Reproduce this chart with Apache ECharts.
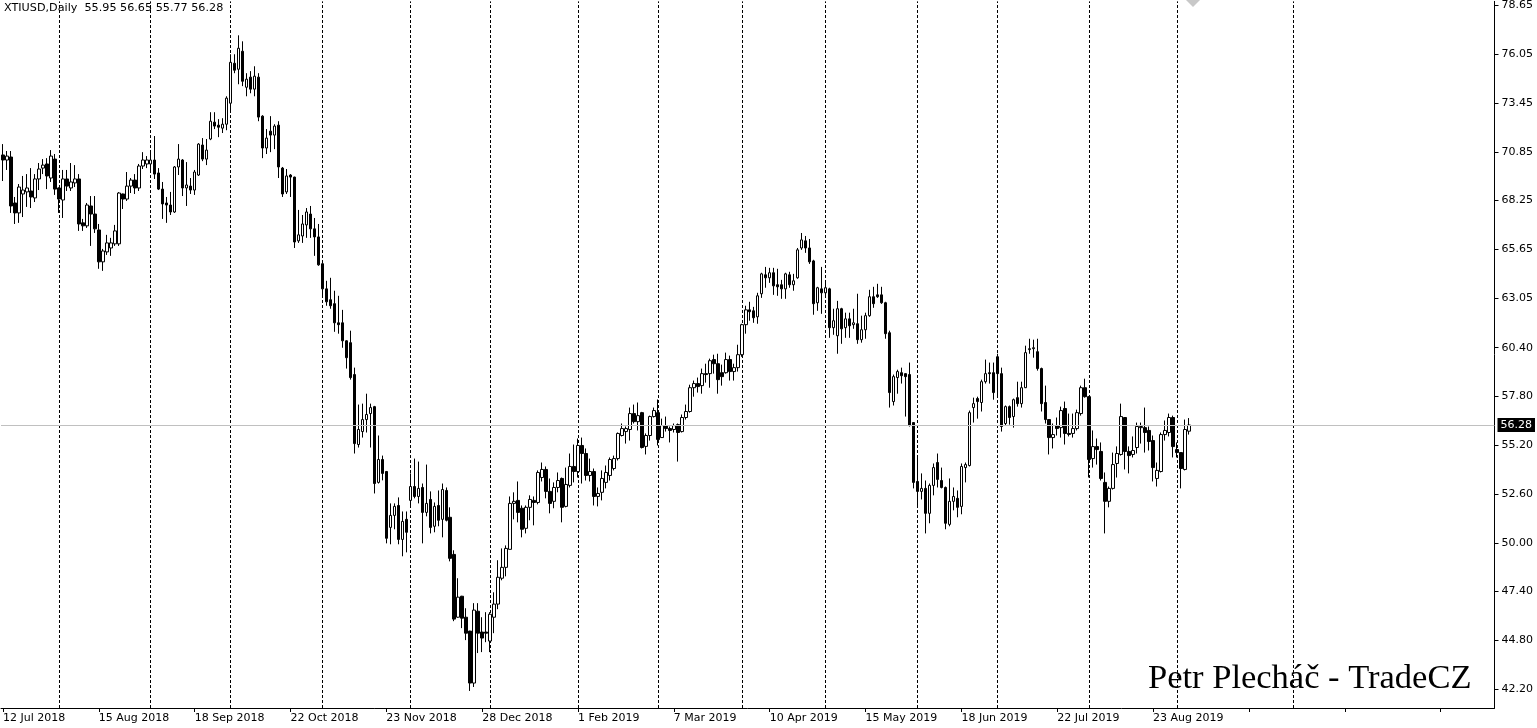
<!DOCTYPE html>
<html><head><meta charset="utf-8">
<style>html,body{margin:0;padding:0;background:#fff;overflow:hidden}#c{width:1537px;height:728px}</style>
<script src="https://cdn.jsdelivr.net/npm/echarts@6/dist/echarts.min.js"></script>
</head><body><div id="c"></div>
<script>
const symbolName = 'XTIUSD,Daily';
const firstDate = [2018, 6, 12];
const holidays = ['2018-12-25', '2019-01-01', '2019-04-19'];
const totalSlots = 374;
const labelEvery = 24;
const monthStartBars = [14, 37, 57, 80, 102, 122, 144, 164, 185, 206, 229, 249, 272, 294, 323];
const priceTicks = [42.20, 44.80, 47.40, 50.00, 52.60, 55.20, 57.80, 60.40, 63.05, 65.65, 68.25, 70.85, 73.45, 76.05, 78.65];
const priceMin = 41.19, priceMax = 78.87;

const open = [70.68,70.41,70.57,68.12,67.59,68.60,68.71,68.76,68.39,69.40,69.98,70.20,69.45,70.46,68.92,68.28,69.40,68.92,69.19,69.40,
67.06,66.90,67.96,67.53,66.68,64.98,65.51,65.72,65.94,65.94,68.60,68.33,69.02,69.34,68.92,70.09,70.20,70.20,70.41,69.72,
68.86,68.12,68.01,67.64,70.04,70.41,68.92,69.02,68.81,69.61,71.21,70.46,71.53,72.43,72.27,72.11,72.32,73.44,75.57,75.25,
76.21,74.29,74.83,74.19,74.83,72.75,71.05,71.95,71.74,72.27,69.98,68.71,69.61,69.50,66.10,66.36,66.95,67.53,66.74,66.31,
64.88,63.54,62.96,62.75,61.73,61.73,60.77,60.67,58.97,55.24,55.93,56.57,56.89,57.26,53.22,54.44,53.80,50.82,51.46,51.99,
50.18,51.25,52.26,53.00,52.47,52.95,51.62,52.31,50.88,51.99,51.25,52.79,51.36,49.38,46.03,47.15,46.03,45.29,42.52,46.35,
45.24,45.24,44.76,46.03,46.73,48.11,48.69,49.65,52.10,52.26,51.84,50.77,51.89,52.26,52.15,53.48,53.91,52.74,52.21,52.95,
53.43,51.94,53.06,54.07,53.80,55.19,54.76,53.59,53.80,52.47,52.69,53.22,53.59,53.96,54.49,55.72,55.93,56.04,56.89,56.46,
56.94,55.14,55.72,56.73,56.94,55.61,56.25,56.09,56.04,56.30,55.93,56.68,57.00,58.27,58.49,58.38,59.02,59.02,59.77,59.55,
59.07,59.07,59.77,59.13,59.34,60.03,61.63,62.42,62.37,62.05,63.28,64.29,64.13,64.40,63.76,63.76,63.54,64.29,63.76,64.13,
65.72,66.10,65.72,65.03,62.80,63.54,63.33,63.54,61.47,61.04,62.48,61.47,61.94,61.63,61.68,60.83,61.36,62.11,63.12,63.22,
63.22,62.80,61.20,57.53,58.81,59.07,59.02,58.97,56.41,53.27,52.74,52.90,51.57,53.06,54.28,53.32,52.95,50.98,52.21,52.37,
51.94,54.01,54.12,57.21,57.69,57.48,58.59,59.07,59.07,59.92,59.02,56.36,57.26,56.73,57.74,57.42,58.27,60.30,60.35,60.19,
59.29,57.48,56.57,55.61,56.25,56.14,57.16,55.83,55.83,56.09,56.89,58.27,57.79,54.49,55.13,54.87,53.22,52.21,52.90,54.23,
54.71,56.68,54.87,54.71,55.08,56.14,56.14,55.99,55.45,53.43,53.80,55.77,55.88,56.68,54.97,54.81,53.91,55.95];
const high = [71.26,70.89,70.89,68.44,69.13,69.56,69.66,69.98,69.66,70.25,70.46,70.51,70.94,70.73,68.95,69.88,69.88,70.25,70.14,69.66,
67.27,68.12,68.49,68.49,67.00,65.67,66.42,66.26,66.95,68.70,68.62,69.77,69.45,69.66,70.20,70.83,70.62,70.83,71.69,69.98,
69.24,68.44,68.71,70.09,71.26,70.46,70.30,69.45,69.88,71.31,71.58,71.53,72.96,72.96,72.59,72.64,73.81,76.05,76.05,77.06,
76.74,75.04,75.15,75.41,75.04,72.80,72.06,72.75,72.32,72.48,70.04,69.93,69.66,69.52,67.75,67.48,67.85,67.96,67.32,67.00,
64.90,63.97,64.13,63.44,63.17,62.42,60.80,61.31,59.34,57.37,57.42,57.95,57.42,57.30,55.72,54.65,53.83,52.10,52.10,52.42,
51.67,51.67,53.70,54.49,54.33,53.16,54.17,52.74,52.15,52.79,53.16,52.95,51.89,49.60,48.11,47.17,46.51,45.31,46.78,46.78,
46.03,46.30,46.30,47.36,49.07,49.70,49.86,52.47,52.69,53.27,51.99,51.99,52.53,52.47,53.86,54.28,54.07,53.43,53.22,53.75,
53.48,54.01,54.76,55.24,55.56,55.61,55.03,54.49,53.96,52.95,53.86,54.12,54.55,54.65,55.88,56.36,56.20,57.21,57.37,57.48,
56.98,55.83,56.78,57.21,57.64,56.62,56.73,56.20,56.36,56.36,56.84,57.37,58.43,58.65,58.81,59.29,59.55,59.82,60.03,60.08,
59.50,60.14,59.98,59.55,60.56,61.68,62.64,62.85,62.58,63.33,64.40,64.71,64.66,64.66,64.61,64.02,64.40,64.45,64.34,65.72,
66.52,66.36,66.20,65.09,63.65,64.71,63.86,63.60,62.48,62.90,62.53,62.27,62.27,62.48,63.28,62.11,62.27,63.49,63.65,63.81,
63.65,62.85,61.31,58.97,59.23,59.34,59.04,59.61,56.43,54.65,53.70,53.32,53.16,54.23,54.76,54.01,53.00,53.43,52.95,52.79,
54.23,54.28,57.05,57.74,57.79,58.70,59.77,59.61,59.61,60.08,59.34,57.32,57.32,57.69,58.59,58.59,60.51,60.88,60.83,60.88,
59.34,58.38,56.59,56.36,56.68,57.26,57.53,56.89,56.89,57.10,58.38,58.75,57.82,55.99,55.56,55.35,53.75,53.00,54.81,55.14,
57.42,56.70,55.14,55.67,56.41,56.41,57.21,56.20,55.72,54.28,55.88,56.52,56.89,56.78,55.35,54.83,56.57,56.65];
const low = [69.29,69.88,67.59,67.00,67.06,67.37,67.91,67.85,68.17,68.81,69.66,68.86,69.24,68.55,67.59,67.32,68.76,68.76,68.97,66.63,
66.63,66.79,65.83,66.52,64.61,64.50,65.35,65.30,65.83,65.83,67.80,68.23,68.65,68.60,68.76,69.93,69.98,69.77,69.40,68.81,
67.27,67.06,67.48,67.59,69.61,68.49,67.96,68.60,68.55,69.56,70.35,70.14,71.47,72.06,71.63,71.85,72.00,73.02,75.04,74.45,
74.35,73.81,73.97,73.81,72.48,70.51,70.73,70.83,70.99,69.45,68.44,68.60,68.44,65.72,65.99,65.99,66.26,66.26,65.30,64.77,
63.17,62.64,62.48,61.25,61.15,60.40,59.29,58.70,54.76,55.08,55.61,55.88,55.08,52.63,53.16,53.33,49.97,49.92,50.72,49.92,
49.28,49.49,51.94,52.37,52.10,49.97,51.41,50.50,50.56,50.88,50.29,51.14,49.01,45.82,46.00,45.45,44.81,42.10,42.31,44.12,
44.17,44.70,44.17,45.18,46.46,48.00,48.21,49.65,51.25,51.09,50.29,50.50,51.20,50.93,52.05,53.27,52.37,51.57,51.84,52.69,
51.09,51.89,52.95,53.22,53.48,53.16,53.32,53.27,51.99,51.94,52.26,52.90,53.32,53.86,54.39,55.67,55.29,55.45,56.36,55.99,
55.03,54.71,55.45,56.68,55.19,55.59,55.93,55.35,55.88,54.33,55.88,56.57,56.94,57.79,58.01,57.95,58.54,58.27,59.02,57.95,
58.38,59.02,58.65,58.65,59.13,59.92,61.15,61.84,61.73,61.68,63.06,63.60,63.86,63.22,63.17,63.01,63.01,63.60,63.44,64.08,
65.62,65.46,64.87,62.16,62.37,62.21,63.17,60.93,61.09,60.08,60.61,60.93,60.93,61.41,60.61,60.67,60.88,62.05,62.53,63.06,
62.74,60.88,57.21,57.32,57.95,58.49,56.73,56.20,52.90,51.89,52.31,50.50,51.04,52.53,52.95,52.90,50.72,50.88,51.73,51.36,
51.52,53.22,54.07,56.41,56.62,57.00,58.49,58.49,57.63,57.85,55.93,56.25,56.30,56.14,57.26,57.21,58.25,60.08,59.87,59.18,
57.00,56.36,54.71,55.03,55.72,55.61,55.24,55.67,55.61,55.99,56.78,57.74,53.48,54.01,54.17,53.32,50.50,51.89,52.84,53.48,
54.65,53.91,53.70,54.55,54.76,55.29,54.81,54.92,53.27,53.00,53.75,55.45,55.67,54.55,54.55,52.90,53.86,55.77];
const close = [70.41,70.62,67.96,67.59,68.97,68.81,68.92,68.44,69.40,69.93,70.14,69.56,70.62,68.86,68.33,69.40,69.02,69.24,69.40,67.00,
66.90,68.01,67.53,66.74,64.98,65.56,65.99,65.99,66.63,68.65,68.33,69.02,69.34,68.92,70.09,70.41,70.41,70.41,69.66,68.86,
68.07,68.01,67.64,70.04,70.46,68.92,69.08,68.81,69.77,71.26,70.46,70.94,72.48,72.22,72.16,72.32,73.71,75.62,75.20,76.37,
74.61,74.72,74.19,74.88,72.70,71.05,71.58,71.74,72.22,70.04,68.60,69.56,69.50,66.04,66.42,67.00,67.64,66.74,66.31,64.82,
63.54,62.85,62.64,61.73,61.63,60.77,59.87,58.81,55.29,56.04,56.57,56.84,57.21,53.16,54.44,53.70,50.24,51.46,51.94,50.18,
51.14,50.56,53.00,52.47,52.90,51.62,52.10,50.82,51.94,51.20,52.84,51.20,49.17,45.93,47.10,45.98,45.18,42.52,46.41,45.18,
44.92,45.18,46.19,46.73,48.16,48.69,49.70,52.10,52.21,51.62,50.72,51.89,52.31,52.15,53.75,53.91,52.74,52.10,52.95,53.32,
51.89,53.11,54.07,53.80,55.19,54.76,53.59,53.80,52.47,52.63,53.43,53.75,54.44,54.49,55.83,56.09,56.09,56.89,56.46,56.78,
55.08,55.72,56.73,57.05,55.51,56.25,56.09,55.99,56.25,55.88,56.68,57.00,58.27,58.49,58.33,59.02,58.97,59.71,59.55,58.70,
58.86,59.77,59.13,59.34,60.03,61.63,62.42,62.32,62.00,63.17,64.34,64.13,64.40,63.70,63.65,63.54,64.34,63.76,63.97,65.62,
66.15,65.72,64.98,62.75,63.60,63.33,63.60,61.47,61.84,62.48,61.41,61.94,61.57,61.73,60.83,61.36,62.11,63.12,62.75,63.12,
62.80,61.15,58.01,58.86,59.13,58.91,58.86,56.25,53.22,52.74,52.90,51.57,53.06,54.01,53.38,52.95,51.04,52.21,52.47,51.89,
54.07,54.17,56.94,57.42,57.53,58.59,59.02,59.02,58.01,59.02,56.20,57.26,56.68,57.63,57.42,58.27,60.14,60.35,60.40,59.29,
57.42,56.57,55.61,55.77,56.09,57.05,55.83,55.78,56.09,56.94,58.27,57.79,54.44,55.13,54.97,53.43,52.21,52.90,54.17,54.76,
56.73,54.87,54.65,54.92,56.20,56.20,55.88,55.40,54.01,53.86,55.77,55.99,56.68,55.13,54.81,53.96,56.04,56.28];

const MONTHS = ['Jan','Feb','Mar','Apr','May','Jun','Jul','Aug','Sep','Oct','Nov','Dec'];
const dates = [];
let day = new Date(Date.UTC(firstDate[0], firstDate[1], firstDate[2]));
while (dates.length < open.length) {
  const iso = day.toISOString().slice(0, 10);
  const wd = day.getUTCDay();
  if (wd !== 0 && wd !== 6 && holidays.indexOf(iso) < 0) dates.push(iso);
  day = new Date(day.getTime() + 86400000);
}
const categories = dates.slice();
for (let i = dates.length; i < totalSlots; i++) categories.push('future' + i);

function fmtDate(v) {
  if (!/^\d{4}-\d\d-\d\d$/.test(v)) return '';
  const p = v.split('-');
  return parseInt(p[2], 10) + ' ' + MONTHS[parseInt(p[1], 10) - 1] + ' ' + p[0];
}

const candles = open.map((o, i) => [o, close[i], low[i], high[i]]);
const last = open.length - 1;
const lastPrice = close[last];
const titleText = symbolName + '  ' + [open[last], high[last], low[last], close[last]].map(v => v.toFixed(2)).join(' ');

const chart = echarts.init(document.getElementById('c'), null, {renderer: 'canvas'});
chart.setOption({
  animation: false,
  backgroundColor: '#ffffff',
  textStyle: {fontFamily: 'DejaVu Sans'},
  grid: {left: -1.5, top: 0, width: 1496, height: 708},
  xAxis: {
    type: 'category', data: categories, boundaryGap: true,
    axisLine: {show: true, lineStyle: {color: '#000', width: 1}},
    axisTick: {show: true, interval: labelEvery - 1, alignWithLabel: true, length: 4, lineStyle: {color: '#000'}},
    axisLabel: {interval: labelEvery - 1, align: 'left', margin: 5, fontSize: 11, fontFamily: 'DejaVu Sans', color: '#000', formatter: fmtDate},
    splitLine: {show: false}
  },
  yAxis: {
    type: 'value', position: 'right', min: priceMin, max: priceMax,
    axisLine: {show: true, onZero: false, lineStyle: {color: '#000', width: 1}},
    axisTick: {show: true, customValues: priceTicks, length: 4, lineStyle: {color: '#000'}},
    axisLabel: {customValues: priceTicks, formatter: v => v.toFixed(2), fontSize: 11, fontFamily: 'DejaVu Sans', color: '#000', margin: 7},
    splitLine: {show: false}
  },
  series: [
    {
      type: 'line', data: [], z: 1, silent: true,
      markLine: {
        silent: true, symbol: 'none', z: 1, animation: false,
        label: {show: false},
        lineStyle: {color: '#000', type: [3, 2], width: 1},
        data: monthStartBars.map(b => ({xAxis: b}))
      }
    },
    {
      type: 'candlestick', data: candles, barWidth: 3, z: 3, silent: true,
      itemStyle: {color: '#ffffff', color0: '#000000', borderColor: '#000000', borderColor0: '#000000', borderColorDoji: '#000000', borderWidth: 1},
      markLine: {
        silent: true, symbol: 'none', animation: false,
        data: [{
          yAxis: lastPrice,
          lineStyle: {color: '#c0c0c0', type: 'solid', width: 1},
          label: {show: true, position: 'end', formatter: lastPrice.toFixed(2), color: '#fff', backgroundColor: '#000', padding: [2, 3, 1, 3], fontSize: 11, fontFamily: 'DejaVu Sans', distance: 3}
        }]
      }
    }
  ],
  graphic: [
    {type: 'text', left: 4, top: 3, z: 10, style: {text: titleText, font: '11.2px "DejaVu Sans"', fill: '#000'}},
    {type: 'text', left: 1148, top: 661, z: 10, style: {text: 'Petr Plecháč - TradeCZ', font: '34.5px "Liberation Serif"', fill: '#000'}},
    {type: 'polygon', z: 10, shape: {points: [[1186, 0], [1193, 7], [1200, 0]]}, style: {fill: '#c8c8c8'}}
  ]
});
</script>
</body></html>
